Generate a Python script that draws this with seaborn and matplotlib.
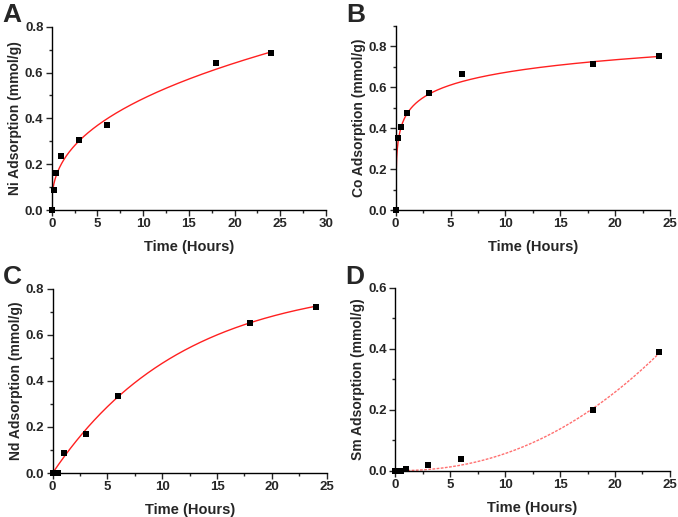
import numpy as np
import pandas as pd
import matplotlib
matplotlib.use("Agg")
import matplotlib.pyplot as plt
from matplotlib.ticker import AutoMinorLocator
import seaborn as sns

# sampling times (hours)
time_h = [0, 0.25, 0.5, 1, 3, 6, 18, 24]

# adsorbed amounts (mmol/g)
ni_ads = [0.0, 0.087, 0.163, 0.237, 0.305, 0.371, 0.641, 0.685]
co_ads = [0.0, 0.354, 0.407, 0.474, 0.572, 0.663, 0.712, 0.753]
nd_ads = [0.0, 0.0, 0.0, 0.087, 0.169, 0.333, 0.652, 0.722]
sm_ads = [0.0, 0.0, 0.0, 0.005, 0.019, 0.038, 0.198, 0.390]

# fitted model parameters
ni_fit = dict(c=0.0115, a=0.1855, b=0.408)   # c + a*t^b
co_fit = dict(a=0.468, b=0.089)               # a + b*ln(t)
nd_fit = dict(qe=0.832, k=0.085)              # qe*(1-exp(-k t))
sm_fit = dict(a=3.54e-4, n=2.2)               # a*t^n

sns.set_style("ticks")
plt.rcParams["font.family"] = ["Liberation Sans", "DejaVu Sans"]
plt.rcParams["font.weight"] = "bold"

fig = plt.figure(figsize=(6.78, 5.17), dpi=100)

panels = [
    dict(letter="A", pos=[0.0763, 0.5938, 0.4046, 0.3546], y=ni_ads, ylab="Ni Adsorption (mmol/g)",
         xlim=(0, 30), xticks=[0, 5, 10, 15, 20, 25, 30], ylim=(0, 0.8), yticks=[0, 0.2, 0.4, 0.6, 0.8]),
    dict(letter="B", pos=[0.5836, 0.5938, 0.4046, 0.3560], y=co_ads, ylab="Co Adsorption (mmol/g)",
         xlim=(0, 25), xticks=[0, 5, 10, 15, 20, 25], ylim=(0, 0.9), yticks=[0, 0.2, 0.4, 0.6, 0.8]),
    dict(letter="C", pos=[0.0777, 0.0851, 0.4041, 0.3565], y=nd_ads, ylab="Nd Adsorption (mmol/g)",
         xlim=(0, 25), xticks=[0, 5, 10, 15, 20, 25], ylim=(0, 0.8), yticks=[0, 0.2, 0.4, 0.6, 0.8]),
    dict(letter="D", pos=[0.5826, 0.0896, 0.4056, 0.3534], y=sm_ads, ylab="Sm Adsorption (mmol/g)",
         xlim=(0, 25), xticks=[0, 5, 10, 15, 20, 25], ylim=(0, 0.6), yticks=[0, 0.2, 0.4, 0.6]),
]

t_fine = np.linspace(0, 24, 400)
t_log = np.linspace(0.03, 24, 400)
fits = [
    (t_fine, ni_fit["c"] + ni_fit["a"] * t_fine ** ni_fit["b"], "-", "#ff2020"),
    (t_log, co_fit["a"] + co_fit["b"] * np.log(t_log), "-", "#ff2020"),
    (t_fine, nd_fit["qe"] * (1 - np.exp(-nd_fit["k"] * t_fine)), "-", "#ff2020"),
    (t_fine, sm_fit["a"] * t_fine ** sm_fit["n"], (0, (2, 1)), "#ff7070"),
]

for p, (tx, ty, ls, col) in zip(panels, fits):
    ax = fig.add_axes(p["pos"])
    sns.lineplot(x=tx, y=ty, ax=ax, color=col, linestyle=ls, linewidth=1.0)
    df = pd.DataFrame({"t": time_h, "q": p["y"]})
    sns.scatterplot(data=df, x="t", y="q", ax=ax, marker="s", s=14, color="black",
                    edgecolor="black", linewidth=0, zorder=5, clip_on=False)
    ax.set_xlim(*p["xlim"])
    ax.set_ylim(*p["ylim"])
    ax.set_xticks(p["xticks"])
    ax.set_yticks(p["yticks"])
    ax.set_xticklabels([f"{v:g}" for v in p["xticks"]])
    ax.set_yticklabels([f"{v:.1f}" for v in p["yticks"]])
    ax.xaxis.set_minor_locator(AutoMinorLocator(2))
    ax.yaxis.set_minor_locator(AutoMinorLocator(2))
    ax.tick_params(which="major", direction="out", length=4, width=1, labelsize=9.5, pad=2)
    ax.tick_params(which="minor", direction="out", length=2, width=1)
    for lab in ax.get_xticklabels() + ax.get_yticklabels():
        lab.set_fontweight("bold")
    sns.despine(ax=ax)
    for s in ["left", "bottom"]:
        ax.spines[s].set_linewidth(1.0)
        ax.spines[s].set_color("black")
    ax.set_xlabel("Time (Hours)", fontsize=10.5, fontweight="bold", labelpad=7)
    ax.set_ylabel(p["ylab"], fontsize=10, fontweight="bold", labelpad=2)
    x0, y0, w, h = p["pos"]
    fig.text(x0 - 0.073, y0 + h + 0.022, p["letter"], fontsize=19, fontweight="bold",
             ha="left", va="center")

fig.savefig("out.png", dpi=100)
